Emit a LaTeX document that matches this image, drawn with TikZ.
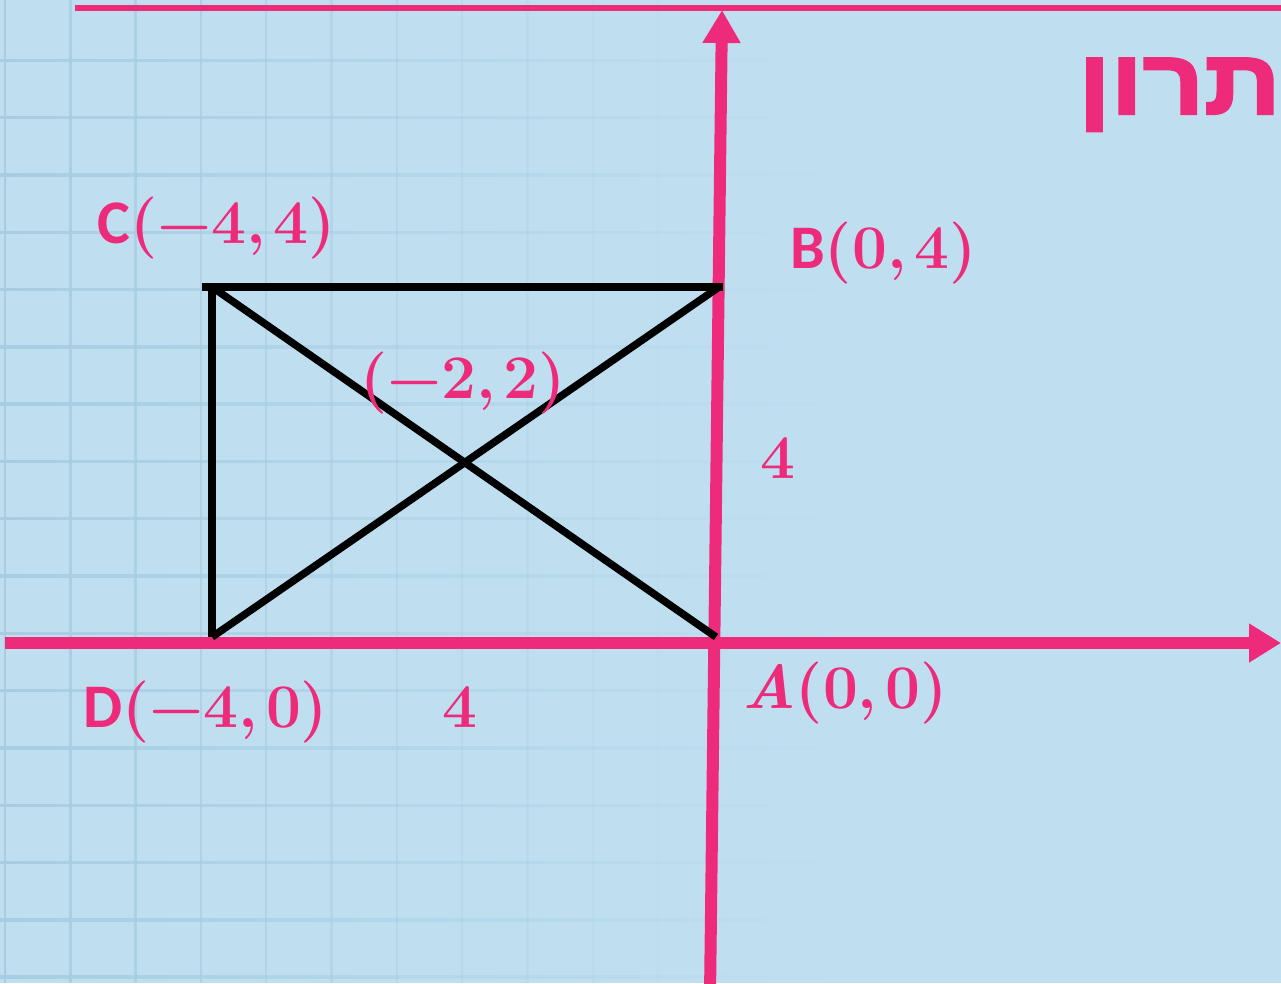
\documentclass[tikz,border=0pt]{standalone}
\usepackage{fontspec}
\usepackage{graphicx}
\usetikzlibrary{arrows.meta}
\TeXXeTstate=1
\newfontfamily\hebfont[Script=Hebrew, FakeBold=2.5]{Liberation Sans Bold}
\newfontfamily\labfont{Carlito}
\definecolor{bg}{HTML}{BFDFF1}
\definecolor{gridc}{HTML}{A8CDE2}
\definecolor{pinkc}{HTML}{EE2A7B}
\tikzset{
  lbl/.style={text=pinkc, inner sep=0pt, font=\fontsize{62}{70}\selectfont\bfseries},
  axisline/.style={draw=pinkc, line width=12pt},
  blkline/.style={draw=black, line width=7.5pt},
  gridv/.style={draw=gridc, line width=2.4pt},
}
\newcommand\csp{\hspace{8pt}}
\begin{document}
\begin{tikzpicture}[x=1pt,y=-1pt]
\useasboundingbox (0,0) rectangle (1281,983);
\clip (0,0) rectangle (1281,983);
\fill[bg] (0,0) rectangle (1281,983);
% grid (fading to the right)
\foreach \k in {1,...,17}{
  \pgfmathsetmacro\yy{3+57.3*\k}
  \shade[left color=gridc, right color=bg] (0,\yy-1.2) rectangle (850,\yy+1.2);
}
\foreach \k in {0,...,11}{
  \pgfmathsetmacro\xx{5+65.3*\k}
  \pgfmathsetmacro\op{max(0,1-\k/11)}
  \draw[gridv, opacity=\op] (\xx,0) -- (\xx,983);
}
% coordinates
\coordinate (tl) at (75,8);
\coordinate (tr) at (1290,8);
\coordinate (xl) at (5,643);
\coordinate (xr) at (1281,643);
\coordinate (ybot) at (710,995);
\coordinate (ytop) at (722,10);
\coordinate (C) at (212,287);
\coordinate (B) at (719,287);
\coordinate (D) at (212,637);
\coordinate (A) at (716,637);
% pink lines
\draw[draw=pinkc, line width=6.5pt] (tl) -- (tr);
\draw[axisline, -{Triangle[length=32pt,width=37pt]}] (xl) -- (xr);
\draw[axisline, -{Triangle[length=33pt,width=36pt]}] (ybot) -- (ytop);
% rectangle and diagonals
\draw[blkline] ([xshift=-10pt]C) -- ([xshift=4pt]B);
\draw[blkline] (C) -- (D);
\draw[blkline] (C) -- (A);
\draw[blkline] (D) -- (B);
% labels
\node[lbl, anchor=base west] (Clab) at (97,243) {{\labfont C}(−4,\csp4)};
\node[lbl, anchor=base west] (Blab) at (790,268) {{\labfont B}(0,\csp4)};
\node[lbl, anchor=base west] (Mlab) at (360,398) {(−2,\csp2)};
\node[lbl, anchor=base west] (Vlab) at (760,478) {4};
\node[lbl, anchor=base west] (Dlab) at (83,727) {{\labfont D}(−4,\csp0)};
\node[lbl, anchor=base west] (Hlab) at (442,727) {4};
\node[lbl, anchor=base west] (Alab) at (742,708) {{\itshape A}(0,\csp0)};
\node[text=pinkc, inner sep=0pt, anchor=base east, font=\hebfont\fontsize{92}{104}\selectfont] (title) at (1281,114) {\scalebox{1.16}[1]{\beginR תרון\endR}};
\end{tikzpicture}
\end{document}
